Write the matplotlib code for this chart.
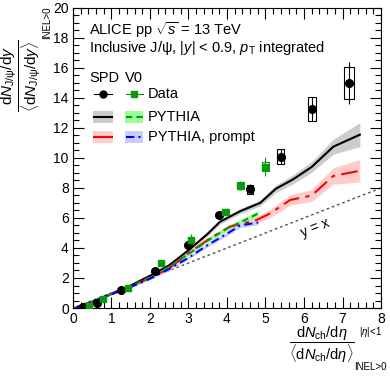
import matplotlib
matplotlib.use("Agg")
import matplotlib.pyplot as plt
from matplotlib.patches import Rectangle
import numpy as np

plt.rcParams['font.family'] = ['Liberation Sans', 'DejaVu Sans']
plt.rcParams['mathtext.fontset'] = 'custom'
plt.rcParams['mathtext.rm'] = 'Liberation Sans'
plt.rcParams['mathtext.it'] = 'Liberation Sans:italic'
plt.rcParams['mathtext.bf'] = 'Liberation Sans:bold'

# data, SPD estimator
spd_x = [0.26, 0.63, 1.25, 2.13, 3.0, 3.8, 4.6, 5.4, 6.2, 7.17]
spd_y = [0.08, 0.35, 1.18, 2.47, 4.18, 6.2, 7.93, 10.09, 13.29, 15.0]
spd_stat = [0.02, 0.03, 0.05, 0.08, 0.12, 0.18, 0.35, 0.5, 0.8, 1.4]
spd_sys = [0.01, 0.02, 0.04, 0.06, 0.1, 0.15, 0.3, 0.5, 0.8, 1.07]
spd_xw = [0.07, 0.07, 0.07, 0.07, 0.07, 0.08, 0.08, 0.09, 0.1, 0.13]

# data, V0 estimator
v0_x = [0.42, 0.79, 1.43, 2.29, 3.06, 3.96, 4.35, 4.99]
v0_y = [0.15, 0.58, 1.31, 3.0, 4.55, 6.38, 8.15, 9.42]
v0_stat = [0.02, 0.04, 0.06, 0.1, 0.4, 0.15, 0.3, 0.65]
v0_sys = [0.02, 0.03, 0.05, 0.08, 0.12, 0.2, 0.25, 0.3]
v0_xw = [0.07, 0.07, 0.07, 0.07, 0.07, 0.08, 0.09, 0.09]

# PYTHIA, SPD
py_spd_x = [0.1, 0.5, 1.0, 1.5, 2.0, 2.5, 3.0, 3.5, 3.82, 4.34, 4.86, 5.27, 5.7, 6.2, 6.76, 7.45]
py_spd_y = [0.05, 0.42, 0.95, 1.5, 2.15, 2.85, 3.85, 4.95, 5.75, 6.45, 7.0, 7.95, 8.55, 9.4, 10.75, 11.55]
py_spd_e = [0.02, 0.03, 0.05, 0.06, 0.08, 0.1, 0.12, 0.14, 0.15, 0.17, 0.2, 0.25, 0.3, 0.35, 0.5, 0.8]

# PYTHIA prompt, SPD
pr_spd_x = [0.1, 0.5, 1.0, 1.5, 2.0, 2.5, 3.0, 3.56, 4.08, 4.77, 5.12, 5.64, 6.2, 6.76, 7.45]
pr_spd_y = [0.05, 0.4, 0.93, 1.45, 2.0, 2.65, 3.65, 4.65, 5.42, 5.87, 6.3, 7.2, 7.5, 8.8, 9.15]
pr_spd_e = [0.02, 0.03, 0.05, 0.06, 0.08, 0.1, 0.12, 0.15, 0.18, 0.22, 0.28, 0.35, 0.4, 0.55, 0.75]

# PYTHIA, V0
py_v0_x = [0.1, 0.5, 1.0, 1.5, 2.0, 2.5, 3.0, 3.5, 4.0, 4.34, 4.81]
py_v0_y = [0.05, 0.4, 0.95, 1.45, 2.05, 2.75, 3.6, 4.5, 5.3, 5.7, 6.3]
py_v0_e = [0.02, 0.03, 0.04, 0.05, 0.06, 0.08, 0.1, 0.12, 0.15, 0.17, 0.2]

# PYTHIA prompt, V0
pr_v0_x = [0.1, 0.5, 1.0, 1.5, 2.0, 2.5, 3.0, 3.5, 4.0, 4.34, 4.81]
pr_v0_y = [0.05, 0.4, 0.92, 1.4, 1.95, 2.6, 3.35, 4.2, 4.95, 5.5, 5.7]
pr_v0_e = [0.02, 0.03, 0.04, 0.05, 0.06, 0.08, 0.1, 0.12, 0.13, 0.14, 0.15]

diag = [0, 8]

green = '#0b9a0b'

fig = plt.figure(figsize=(3.9, 3.77), dpi=100)
ax = fig.add_axes([0.187, 0.183, 0.79, 0.796])


def band(x, y, e, fc, **kw):
    x = np.array(x); y = np.array(y); e = np.array(e)
    ax.fill_between(x, y - e, y + e, color=fc, lw=0, zorder=1)
    ax.plot(x, y, zorder=2, **kw)


ax.plot(diag, diag, ls=(0, (2, 2)), color='#555555', lw=1, zorder=1)
band(py_spd_x, py_spd_y, py_spd_e, '#cccccc', color='black', lw=1.5)
band(pr_spd_x, pr_spd_y, pr_spd_e, '#ffcccc', color='red', lw=1.5, ls=(0, (8, 3, 2, 3)))
band(py_v0_x, py_v0_y, py_v0_e, '#99ff99', color=green, lw=1.5, ls=(0, (3, 2)))
band(pr_v0_x, pr_v0_y, pr_v0_e, '#ccccff', color='blue', lw=1.5, ls=(0, (4, 2, 1, 2)))

# systematic boxes
for x, y, s, w in zip(spd_x, spd_y, spd_sys, spd_xw):
    ax.add_patch(Rectangle((x - w, y - s), 2 * w, 2 * s, fill=False,
                           ec='black', lw=0.8, zorder=3))
for x, y, s, w in zip(v0_x, v0_y, v0_sys, v0_xw):
    ax.add_patch(Rectangle((x - w, y - s), 2 * w, 2 * s, fill=False,
                           ec=green, lw=0.8, zorder=3))

ax.errorbar(spd_x, spd_y, yerr=spd_stat, fmt='o', color='black', ms=5.5,
            elinewidth=0.8, capsize=0, zorder=4)
ax.errorbar(v0_x, v0_y, yerr=v0_stat, fmt='s', color=green, ms=5,
            elinewidth=0.8, capsize=0, zorder=4)

ax.text(6.3, 5.35, 'y = x', rotation=22, fontsize=10, ha='center', va='center')

ax.set_xlim(0, 8)
ax.set_ylim(0, 20)
ax.set_xticks(np.arange(0, 9, 1))
ax.set_yticks(np.arange(0, 21, 2))
ax.set_xticks(np.arange(0, 8.01, 0.2), minor=True)
ax.set_yticks(np.arange(0, 20.01, 0.5), minor=True)
ax.tick_params(which='both', direction='in', top=True, right=True, labelsize=10)
ax.tick_params(which='major', length=8, width=0.8)
ax.tick_params(which='minor', length=4, width=0.8)
ax.tick_params(axis='x', pad=3)
ax.tick_params(axis='y', pad=3)

# header text
ax.text(0.052, 0.927, r'ALICE pp $\sqrt{s}$ = 13 TeV', transform=ax.transAxes,
        fontsize=10.5, va='center')
ax.text(0.052, 0.867, r'Inclusive J/ψ, |$y$| < 0.9, $p_{\mathrm{T}}$ integrated',
        transform=ax.transAxes, fontsize=10.5, va='center')

# legend
T = ax.transAxes
ax.text(0.052, 0.767, 'SPD', transform=T, fontsize=10.5, va='center')
ax.text(0.169, 0.767, 'V0', transform=T, fontsize=10.5, va='center')
ax.plot([0.068, 0.127], [0.713, 0.713], color='black', lw=0.8, transform=T)
ax.plot([0.097], [0.713], 'o', color='black', ms=5, transform=T)
ax.plot([0.172, 0.227], [0.713, 0.713], color=green, lw=0.8, transform=T)
ax.plot([0.198], [0.713], 's', color=green, ms=5, transform=T)
ax.text(0.243, 0.713, 'Data', transform=T, fontsize=10.5, va='center')

for yy, c1, f1, s1, c2, f2, s2, lab in [
        (0.637, 'black', '#cccccc', '-', green, '#99ff99', (0, (3, 2)), 'PYTHIA'),
        (0.570, 'red', '#ffcccc', '-', 'blue', '#ccccff', (0, (4, 2, 1, 2)), 'PYTHIA, prompt')]:
    ax.add_patch(Rectangle((0.066, yy - 0.02), 0.064, 0.04, color=f1, lw=0, transform=T))
    ax.plot([0.07, 0.126], [yy, yy], color=c1, ls=s1, lw=1.5, transform=T)
    ax.add_patch(Rectangle((0.169, yy - 0.02), 0.06, 0.04, color=f2, lw=0, transform=T))
    ax.plot([0.172, 0.226], [yy, yy], color=c2, ls=s2, lw=1.5, transform=T)
    ax.text(0.243, yy, lab, transform=T, fontsize=10.5, va='center')

# axis titles
fig.text(0.055, 0.8,
         r'$\dfrac{\mathrm{d}N_{\mathrm{J/ψ}}/\mathrm{d}y}{\langle\mathrm{d}N_{\mathrm{J/ψ}}/\mathrm{d}y\rangle}$',
         rotation=90, fontsize=11, ha='center', va='center')
fig.text(0.12, 0.94, 'INEL>0', rotation=90, fontsize=7, ha='center', va='center')

fig.text(0.825, 0.085,
         r'$\dfrac{\mathrm{d}N_{\mathrm{ch}}/\mathrm{d}η}{\langle\mathrm{d}N_{\mathrm{ch}}/\mathrm{d}η\rangle}$',
         fontsize=10.5, ha='center', va='center')
fig.text(0.95, 0.12, r'$|η|$<1', fontsize=7, ha='center', va='center')
fig.text(0.95, 0.027, 'INEL>0', fontsize=7, ha='center', va='center')

fig.savefig('out.png', dpi=100)
